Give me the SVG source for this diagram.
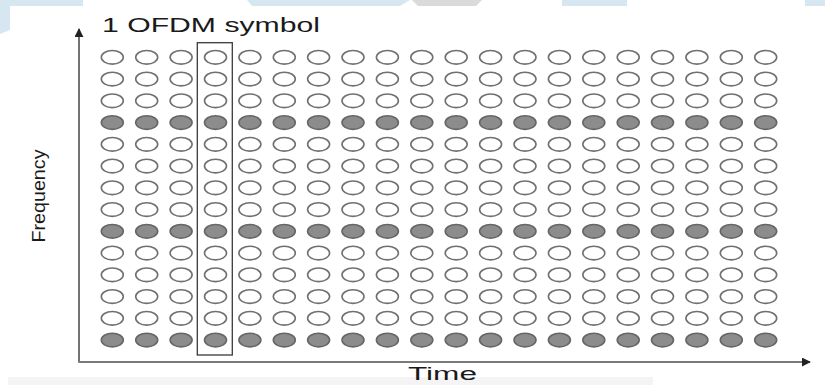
<svg xmlns="http://www.w3.org/2000/svg" xmlns:xlink="http://www.w3.org/1999/xlink" width="825" height="385" viewBox="0 0 825 385">
<style>
.w{fill:#ffffff;stroke:#707070;stroke-width:1.6}
.g{fill:#8c8c8c;stroke:#666666;stroke-width:1.6}
.lbl{font-family:"Liberation Sans",Arial,sans-serif;fill:#1a1a1a}
.ax{fill:none;stroke-linecap:butt}
</style>
<defs>
<marker id="ah" viewBox="0 0 10 10" refX="9" refY="5" markerWidth="9" markerHeight="9" markerUnits="userSpaceOnUse" orient="auto">
<path d="M0,0 L10,5 L0,10 Z" fill="#222"/>
</marker>
<g id="rw">
<ellipse class="w" cx="112.3" cy="0" rx="11" ry="6.8"/><ellipse class="w" cx="146.7" cy="0" rx="11" ry="6.8"/><ellipse class="w" cx="181.1" cy="0" rx="11" ry="6.8"/><ellipse class="w" cx="215.5" cy="0" rx="11" ry="6.8"/><ellipse class="w" cx="249.9" cy="0" rx="11" ry="6.8"/><ellipse class="w" cx="284.3" cy="0" rx="11" ry="6.8"/><ellipse class="w" cx="318.6" cy="0" rx="11" ry="6.8"/><ellipse class="w" cx="353.0" cy="0" rx="11" ry="6.8"/><ellipse class="w" cx="387.4" cy="0" rx="11" ry="6.8"/><ellipse class="w" cx="421.8" cy="0" rx="11" ry="6.8"/><ellipse class="w" cx="456.2" cy="0" rx="11" ry="6.8"/><ellipse class="w" cx="490.6" cy="0" rx="11" ry="6.8"/><ellipse class="w" cx="525.0" cy="0" rx="11" ry="6.8"/><ellipse class="w" cx="559.4" cy="0" rx="11" ry="6.8"/><ellipse class="w" cx="593.8" cy="0" rx="11" ry="6.8"/><ellipse class="w" cx="628.2" cy="0" rx="11" ry="6.8"/><ellipse class="w" cx="662.5" cy="0" rx="11" ry="6.8"/><ellipse class="w" cx="696.9" cy="0" rx="11" ry="6.8"/><ellipse class="w" cx="731.3" cy="0" rx="11" ry="6.8"/><ellipse class="w" cx="765.7" cy="0" rx="11" ry="6.8"/>
</g>
<g id="rg">
<ellipse class="g" cx="112.3" cy="0" rx="11" ry="6.8"/><ellipse class="g" cx="146.7" cy="0" rx="11" ry="6.8"/><ellipse class="g" cx="181.1" cy="0" rx="11" ry="6.8"/><ellipse class="g" cx="215.5" cy="0" rx="11" ry="6.8"/><ellipse class="g" cx="249.9" cy="0" rx="11" ry="6.8"/><ellipse class="g" cx="284.3" cy="0" rx="11" ry="6.8"/><ellipse class="g" cx="318.6" cy="0" rx="11" ry="6.8"/><ellipse class="g" cx="353.0" cy="0" rx="11" ry="6.8"/><ellipse class="g" cx="387.4" cy="0" rx="11" ry="6.8"/><ellipse class="g" cx="421.8" cy="0" rx="11" ry="6.8"/><ellipse class="g" cx="456.2" cy="0" rx="11" ry="6.8"/><ellipse class="g" cx="490.6" cy="0" rx="11" ry="6.8"/><ellipse class="g" cx="525.0" cy="0" rx="11" ry="6.8"/><ellipse class="g" cx="559.4" cy="0" rx="11" ry="6.8"/><ellipse class="g" cx="593.8" cy="0" rx="11" ry="6.8"/><ellipse class="g" cx="628.2" cy="0" rx="11" ry="6.8"/><ellipse class="g" cx="662.5" cy="0" rx="11" ry="6.8"/><ellipse class="g" cx="696.9" cy="0" rx="11" ry="6.8"/><ellipse class="g" cx="731.3" cy="0" rx="11" ry="6.8"/><ellipse class="g" cx="765.7" cy="0" rx="11" ry="6.8"/>
</g>
</defs>
<rect width="825" height="385" fill="#ffffff"/>
<g id="watermark">
<rect x="0" y="0" width="83" height="6" fill="#d6e7f1"/>
<path d="M0,0 L10,0 L10,30 L0,34 Z" fill="#d6e7f1"/>
<path d="M247,0 L410,0 L400,6 L252,6 Z" fill="#d6e7f1"/>
<path d="M412,0 L482,0 L476,6 L418,6 Z" fill="#dadada"/>
<rect x="562" y="0" width="65" height="6" fill="#d6e7f1"/>
<rect x="805" y="0" width="20" height="6" fill="#d6e7f1"/>
<rect x="8" y="377" width="645" height="8" fill="#f4f4f4"/>
</g>
<g id="grid">
<use xlink:href="#rw" href="#rw" y="57.3"/>
<use xlink:href="#rw" href="#rw" y="79.05"/>
<use xlink:href="#rw" href="#rw" y="100.8"/>
<use xlink:href="#rg" href="#rg" y="122.55"/>
<use xlink:href="#rw" href="#rw" y="144.3"/>
<use xlink:href="#rw" href="#rw" y="166.05"/>
<use xlink:href="#rw" href="#rw" y="187.8"/>
<use xlink:href="#rw" href="#rw" y="209.55"/>
<use xlink:href="#rg" href="#rg" y="231.3"/>
<use xlink:href="#rw" href="#rw" y="253.05"/>
<use xlink:href="#rw" href="#rw" y="274.8"/>
<use xlink:href="#rw" href="#rw" y="296.55"/>
<use xlink:href="#rw" href="#rw" y="318.3"/>
<use xlink:href="#rg" href="#rg" y="340.05"/>
</g>
<g id="symbol-box">
<rect x="197.3" y="42.7" width="35" height="312.3" fill="none" stroke="#3a3a3a" stroke-width="1.3"/>
</g>
<g id="connectors">
<line class="ax" x1="79" y1="362" x2="79" y2="29" stroke="#444" stroke-width="1.5" marker-end="url(#ah)"/>
<line class="ax" x1="78.3" y1="362" x2="810" y2="362" stroke="#7a7a7a" stroke-width="2" marker-end="url(#ah)"/>
</g>
<g id="labels">
<text class="lbl" x="102" y="32" font-size="19.5" textLength="218" lengthAdjust="spacingAndGlyphs">1 OFDM symbol</text>
<text class="lbl" x="408" y="380" font-size="18" textLength="69" lengthAdjust="spacingAndGlyphs">Time</text>
<text class="lbl" transform="translate(45,196) rotate(-90)" x="0" y="0" font-size="18" text-anchor="middle" textLength="93" lengthAdjust="spacingAndGlyphs">Frequency</text>
</g>
</svg>
